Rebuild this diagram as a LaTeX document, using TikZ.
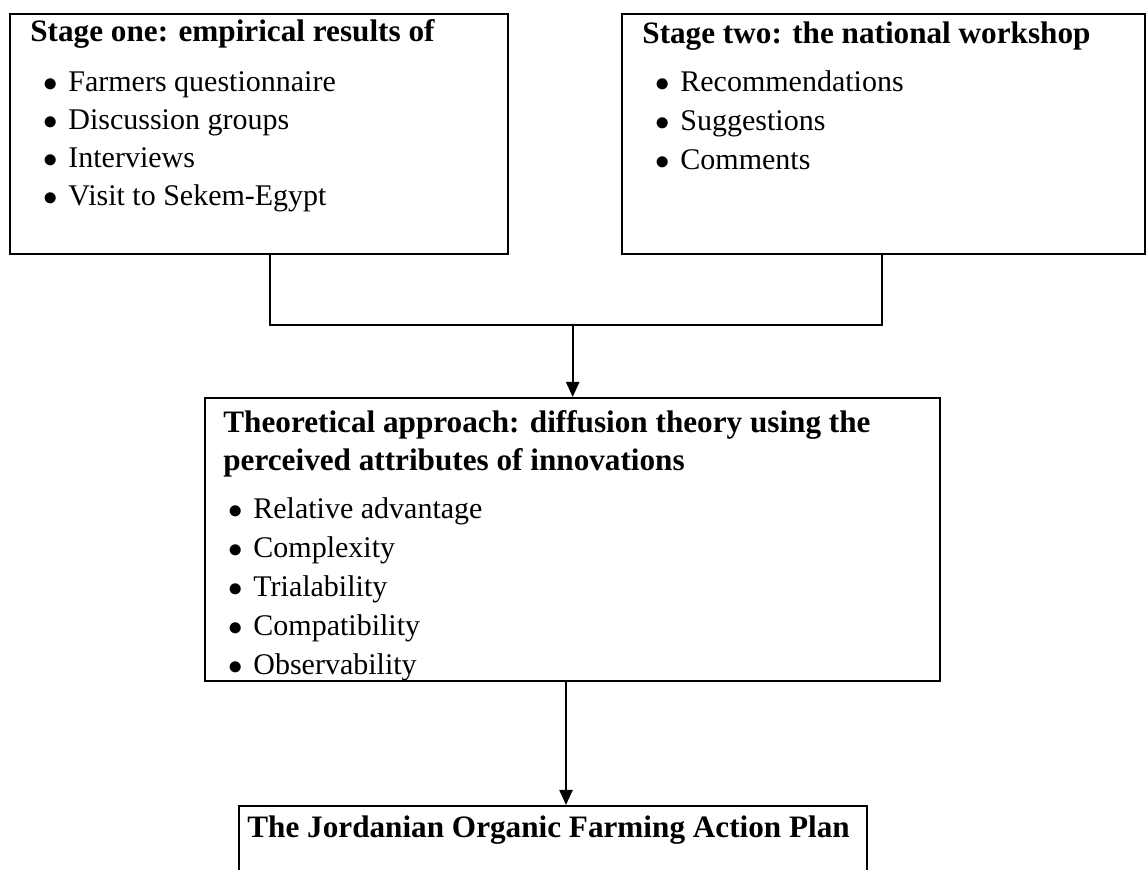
\documentclass[tikz,border=0pt]{standalone}
\usepackage{fontspec}
\setmainfont{Liberation Serif}
\usetikzlibrary{arrows.meta}
\tikzset{
  box/.style={draw=black, line width=1.2pt, anchor=north west, inner sep=0pt},
  head/.style={anchor=base west, inner sep=0pt, font=\fontsize{15.6pt}{19pt}\selectfont\bfseries},
  item/.style={anchor=base west, inner sep=0pt, font=\fontsize{15pt}{19pt}\selectfont},
  link/.style={draw=black, line width=1.2pt},
  arr/.style={link, -{Triangle[length=7.5pt,width=6.5pt]}},
}
\newcommand{\itm}[1]{\llap{$\bullet$\hspace{5.5pt}}#1}

\begin{document}
\begin{tikzpicture}[x=0.5pt, y=-0.5pt]
  \useasboundingbox (0,0) rectangle (1147,870);
  % boxes
  \node[box, minimum width=249pt, minimum height=120pt] (one) at (9,13) {};
  \node[box, minimum width=261.5pt, minimum height=120pt] (two) at (621,13) {};
  \node[box, minimum width=367.5pt, minimum height=141.5pt] (theory) at (204,397) {};
  \node[box, minimum width=314pt, minimum height=37.5pt] (plan) at (238,805) {};
  % texts
  \node[head] (one-t) at (30,42) {Stage one: empirical results of};
  \foreach \t [count=\i] in {Farmers questionnaire, Discussion groups, Interviews, Visit to Sekem-Egypt}
    \node[item] (one-\i) at (68,{92+37.7*(\i-1)}) {\itm{\t}};
  \node[head] (two-t) at (642,44) {Stage two: the national workshop};
  \foreach \t [count=\i] in {Recommendations, Suggestions, Comments}
    \node[item] (two-\i) at (680,{92+39*(\i-1)}) {\itm{\t}};
  \node[head] (theory-t) at (223,433) {Theoretical approach: diffusion theory using the};
  \node[head] (theory-u) at (223,471) {perceived attributes of innovations};
  \begin{scope}
    \clip (theory.north west) rectangle (theory.south east);
    \foreach \t [count=\i] in {Relative advantage, Complexity, Trialability, Compatibility, Observability}
      \node[item] (theory-\i) at (253,{519+39*(\i-1)}) {\itm{\t}};
  \end{scope}
  \node[head] (plan-t) at (247,838) {The Jordanian Organic Farming Action Plan};
  % connectors
  \coordinate (jl) at (270,325);
  \coordinate (jr) at (882,325);
  \coordinate (down) at (566,745);
  \draw[link] (one.south -| jl) -- (jl) -- (jr) -- (two.south -| jr);
  \draw[arr] (theory.north |- jl) -- (theory.north);
  \draw[arr] (theory.south -| down) -- (plan.north -| down);
\end{tikzpicture}
\end{document}
